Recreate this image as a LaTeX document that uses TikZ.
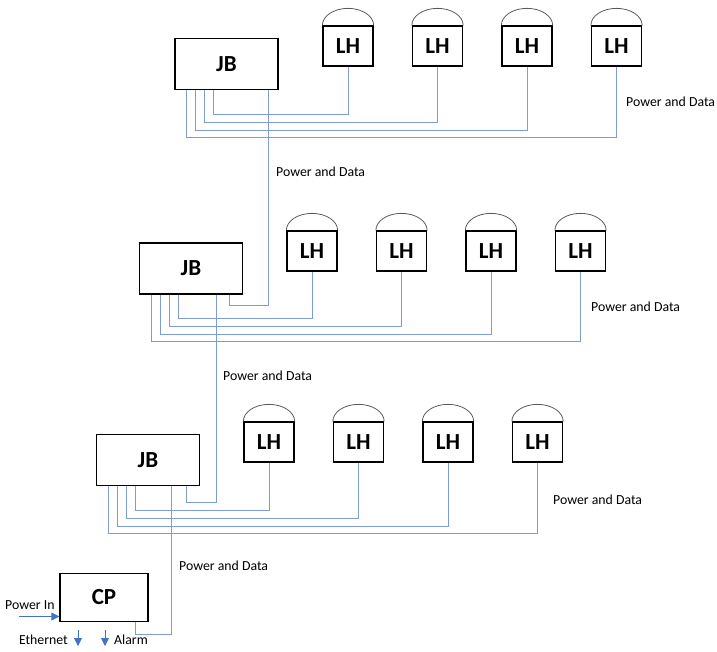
\documentclass[tikz,border=0pt]{standalone}
\usepackage{fontspec}
\setmainfont{Carlito}
\usetikzlibrary{arrows.meta,positioning}
\definecolor{wireblue}{RGB}{125,155,213}
\definecolor{arrblue}{RGB}{68,114,196}

\begin{document}
\begin{tikzpicture}[x=1pt,y=-1pt,node distance=38.2pt,
    box/.style={draw,line width=1.3pt,inner sep=0pt,font=\fontsize{23}{24}\selectfont\bfseries},
    jbox/.style={box,minimum width=103pt,minimum height=51pt},
    lhbox/.style={box,minimum width=50pt,minimum height=40pt},
    cpbox/.style={box,minimum width=88pt,minimum height=48pt},
    dome/.style={draw=black!65,line width=0.8pt},
    wire/.style={draw=wireblue,line width=0.8pt},
    arr/.style={draw=arrblue,line width=0.9pt,-{Triangle[length=8pt,width=8pt]}},
    lbl/.style={font=\fontsize{13.8}{15}\selectfont,inner sep=0pt,anchor=west}]

    \useasboundingbox (0,0) rectangle (717,651);

    % junction boxes and control panel
    \node[jbox] (jb1) at (226.5,64) {JB};
    \node[jbox] (jb2) at (191,268.5) {JB};
    \node[jbox] (jb3) at (148,460) {JB};
    \node[cpbox] (cp) at (104,597.5) {CP};

    % light heads
    \node[lhbox] (lh11) at (348,46) {LH};
    \node[lhbox] (lh12) [right=of lh11] {LH};
    \node[lhbox] (lh13) [right=of lh12] {LH};
    \node[lhbox] (lh14) [right=of lh13] {LH};

    \node[lhbox] (lh21) at (312,251) {LH};
    \node[lhbox] (lh22) [right=of lh21] {LH};
    \node[lhbox] (lh23) [right=of lh22] {LH};
    \node[lhbox] (lh24) [right=of lh23] {LH};

    \node[lhbox] (lh31) at (269,442) {LH};
    \node[lhbox] (lh32) [right=of lh31] {LH};
    \node[lhbox] (lh33) [right=of lh32] {LH};
    \node[lhbox] (lh34) [right=of lh33] {LH};

    \foreach \r in {1,2,3}
        \foreach \c in {1,...,4}
            \draw[dome] (lh\r\c.north west) arc[start angle=180,end angle=0,x radius=25.65pt,y radius=17pt];

    % wiring JB -> LH
    \foreach \r in {1,2,3}
        \foreach \c/\dx/\dy in {1/-13/24,2/-22/32,3/-31/40,4/-40/47}
            \draw[wire] ([xshift=\dx pt]jb\r.south) -- ++(0,\dy) -| (lh\r\c.south);

    % wiring JB -> JB -> CP
    \draw[wire] ([xshift=41.5pt]jb1.south) -- ++(0,215) -| ([xshift=38pt]jb2.south);
    \draw[wire] ([xshift=25pt]jb2.south) -- ++(0,208) -| ([xshift=38pt]jb3.south);
    \draw[wire] ([xshift=23pt]jb3.south) -- ++(0,148) -| ([xshift=31pt]cp.south);

    \node[lbl] (pd1) at (626,102) {Power and Data};
    \node[lbl] (pd2) at (276,172) {Power and Data};
    \node[lbl] (pd3) at (591,307) {Power and Data};
    \node[lbl] (pd4) at (223,376) {Power and Data};
    \node[lbl] (pd5) at (553,500) {Power and Data};
    \node[lbl] (pd6) at (179,566) {Power and Data};

    % control panel in/out
    \node[lbl] (pinlbl) at (5,605) {Power In};
    \node[lbl,anchor=east] (eth) at (68,640) {Ethernet};
    \node[lbl] (alarm) at (114,640) {Alarm};

    \coordinate (pin) at (19,616.5);
    \coordinate (eth1) at (78,630);
    \coordinate (eth2) at (78,646);
    \coordinate (al1) at (105,630);
    \coordinate (al2) at (105,646);
    \draw[arr] (pin) -- (pin -| cp.west);
    \draw[arr] (eth1) -- (eth2);
    \draw[arr] (al1) -- (al2);
\end{tikzpicture}
\end{document}
